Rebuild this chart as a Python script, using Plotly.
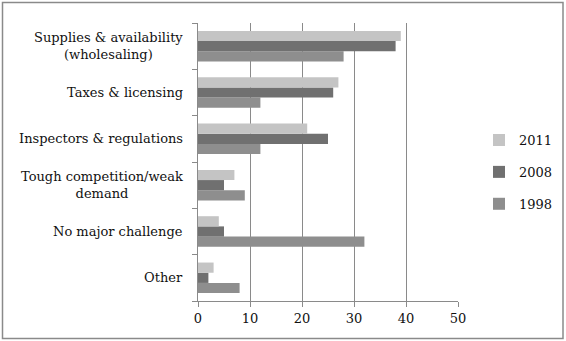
import plotly.graph_objects as go

categories = ["Supplies & availability<br>(wholesaling)", "Taxes & licensing",
              "Inspectors & regulations", "Tough competition/weak<br>demand",
              "No major challenge", "Other"]
years = ["1998", "2008", "2011"]
values_1998 = [28, 12, 12, 9, 32, 8]
values_2008 = [38, 26, 25, 5, 5, 2]
values_2011 = [39, 27, 21, 7, 4, 3]
x_ticks = [0, 10, 20, 30, 40, 50]

series = {"1998": values_1998, "2008": values_2008, "2011": values_2011}
colors = {"1998": "#8e8e8e", "2008": "#707070", "2011": "#c4c4c4"}

FONT = "DejaVu Serif, Liberation Serif, serif"
W, H = 566, 341
ml, mr, mt, mb = 198, 108, 23, 40

fig = go.Figure()
for i, yr in enumerate(years):
    fig.add_trace(go.Bar(
        y=categories, x=series[yr], name=yr, orientation="h",
        marker=dict(color=colors[yr], line=dict(width=0)),
        legendgroup=yr, legendrank=len(years) - i,
    ))

annotations = []
for c in categories:
    annotations.append(dict(
        x=0, xref="paper", y=c, yref="y", text=c, showarrow=False,
        xanchor="right", xshift=-13, align="center",
        font=dict(family=FONT, size=13, color="#111111"),
    ))

pw, ph = W - ml - mr, H - mt - mb
shapes = [dict(
    type="rect", xref="paper", yref="paper",
    x0=(2.5 - ml) / pw, x1=(563 - ml) / pw,
    y0=-(H - 2.5 - mt - ph) / ph, y1=1 + (mt - 2.5) / ph,
    line=dict(color="#8a8a8a", width=1.5), fillcolor="rgba(0,0,0,0)", layer="below",
)]

fig.update_layout(
    width=W, height=H,
    margin=dict(l=ml, r=mr, t=mt, b=mb, autoexpand=False),
    paper_bgcolor="white", plot_bgcolor="white",
    barmode="group", bargap=0.34, bargroupgap=0.0,
    font=dict(family=FONT, size=13, color="#111111"),
    legend=dict(
        x=(479 - ml) / pw, y=0.633, xanchor="left", yanchor="top",
        traceorder="grouped", tracegroupgap=12,
        font=dict(family=FONT, size=13, color="#111111"),
        itemwidth=30, bgcolor="rgba(0,0,0,0)",
    ),
    xaxis=dict(
        range=[0, 50], tickvals=x_ticks, ticktext=[str(v) for v in x_ticks],
        showgrid=True, gridcolor="#8a8a8a", gridwidth=1,
        showline=True, linecolor="#8a8a8a", linewidth=1,
        ticks="outside", ticklen=5, tickcolor="#8a8a8a",
        zeroline=False, fixedrange=True,
        tickfont=dict(family=FONT, size=13, color="#111111"),
    ),
    yaxis=dict(
        categoryorder="array", categoryarray=categories[::-1],
        showticklabels=False, showline=True, linecolor="#8a8a8a", linewidth=1,
        ticks="outside", ticklen=5, tickcolor="#8a8a8a", tickson="boundaries",
        showgrid=False, zeroline=False, fixedrange=True,
    ),
    annotations=annotations, shapes=shapes,
    showlegend=True,
)

fig.write_html("out.html", config={"displayModeBar": False},
               post_script="document.body.style.margin='0px';")
